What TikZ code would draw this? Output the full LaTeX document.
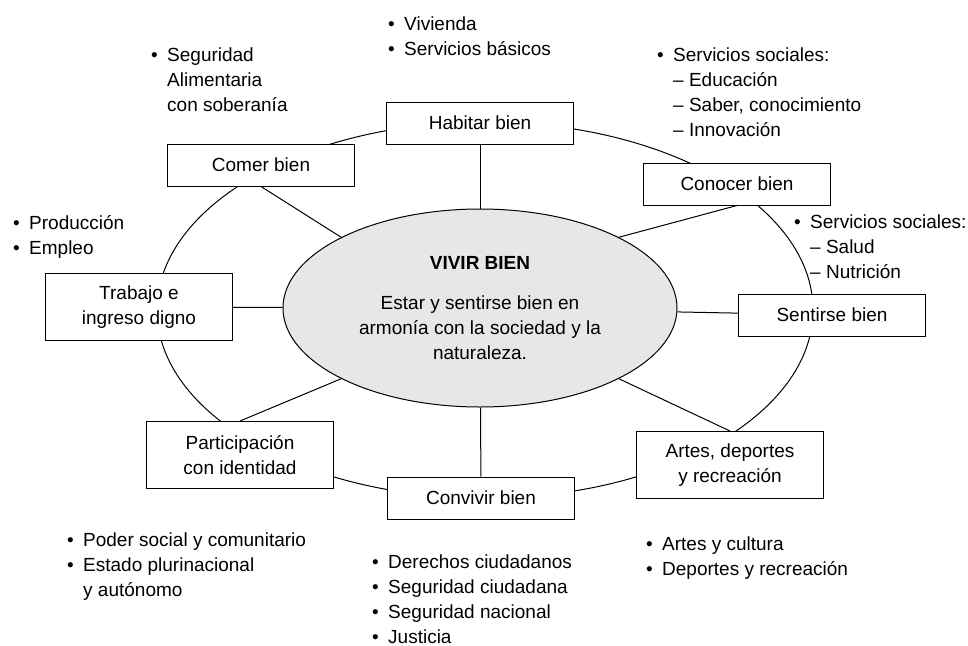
\documentclass[tikz,border=0pt]{standalone}
\usepackage{fontspec}
\setmainfont{Liberation Sans}
\usetikzlibrary{shapes.geometric,backgrounds}
\definecolor{fondo}{RGB}{230,231,232}
\tikzstyle{box}  = [draw, fill=white, line width=1pt, minimum width=187pt, minimum height=42pt, align=center, inner sep=2pt]
\tikzstyle{tall} = [box, minimum height=67pt]
\tikzstyle{note} = [anchor=base west, align=left, inner sep=0pt]
\newcommand{\punto}{\llap{•\hspace{9.5pt}}}

\begin{document}
\begin{tikzpicture}[x=1pt, y=-1pt, every node/.style={font=\fontsize{19}{25}\selectfont}]
          \useasboundingbox (0, 0) rectangle (968, 645);
          \node[ellipse, draw, fill=fondo, line width=1pt, minimum width=394pt, minimum height=198pt, align=center](vivir)at(480, 308){\textbf{VIVIR BIEN}\\[15pt]Estar y sentirse bien en\\armonía con la sociedad y la\\naturaleza.};
          \node[box](habitar)at(480, 123){Habitar bien};
          \node[box](comer)at(261, 165){Comer bien};
          \node[tall](trabajo)at(139, 307){Trabajo e\\ingreso digno};
          \node[box](conocer)at(737, 184){Conocer bien};
          \node[box](sentirse)at(832, 315){Sentirse bien};
          \node[tall](participacion)at(240, 455){Participación\\con identidad};
          \node[box](convivir)at(481, 498){Convivir bien};
          \node[tall](artes)at(730, 465){Artes, deportes\\y recreación};
          % anillo exterior
          \begin{scope}[on background layer]
              \draw[line width=1pt](485, 310) ellipse [x radius=328, y radius=188];
          \end{scope}
          \draw[line width=1pt](habitar)--(vivir);
          \draw[line width=1pt](comer.south)--(vivir.153);
          \draw[line width=1pt](trabajo)--(vivir);
          \draw[line width=1pt](conocer.south)--(vivir.27);
          \draw[line width=1pt](vivir)--(sentirse);
          \draw[line width=1pt](vivir.333)--(artes.north);
          \draw[line width=1pt](vivir)--(convivir);
          \draw[line width=1pt](vivir.207)--(participacion.north);
          % notas (y = base de la ultima linea)
          \node[note](vivienda)at(404, 55){\punto Vivienda\\\punto Servicios básicos};
          \node[note](alimentaria)at(167, 111){\punto Seguridad\\Alimentaria\\con soberanía};
          \node[note](educacion)at(673, 136){\punto Servicios sociales:\\– Educación\\– Saber, conocimiento\\– Innovación};
          \node[note](empleo)at(29, 254){\punto Producción\\\punto Empleo};
          \node[note](salud)at(810, 278){\punto Servicios sociales:\\– Salud\\– Nutrición};
          \node[note](poder)at(83, 596){\punto Poder social y comunitario\\\punto Estado plurinacional\\y autónomo};
          \node[note](derechos)at(388, 643){\punto Derechos ciudadanos\\\punto Seguridad ciudadana\\\punto Seguridad nacional\\\punto Justicia};
          \node[note](cultura)at(662, 575){\punto Artes y cultura\\\punto Deportes y recreación};
      \end{tikzpicture}
\end{document}
